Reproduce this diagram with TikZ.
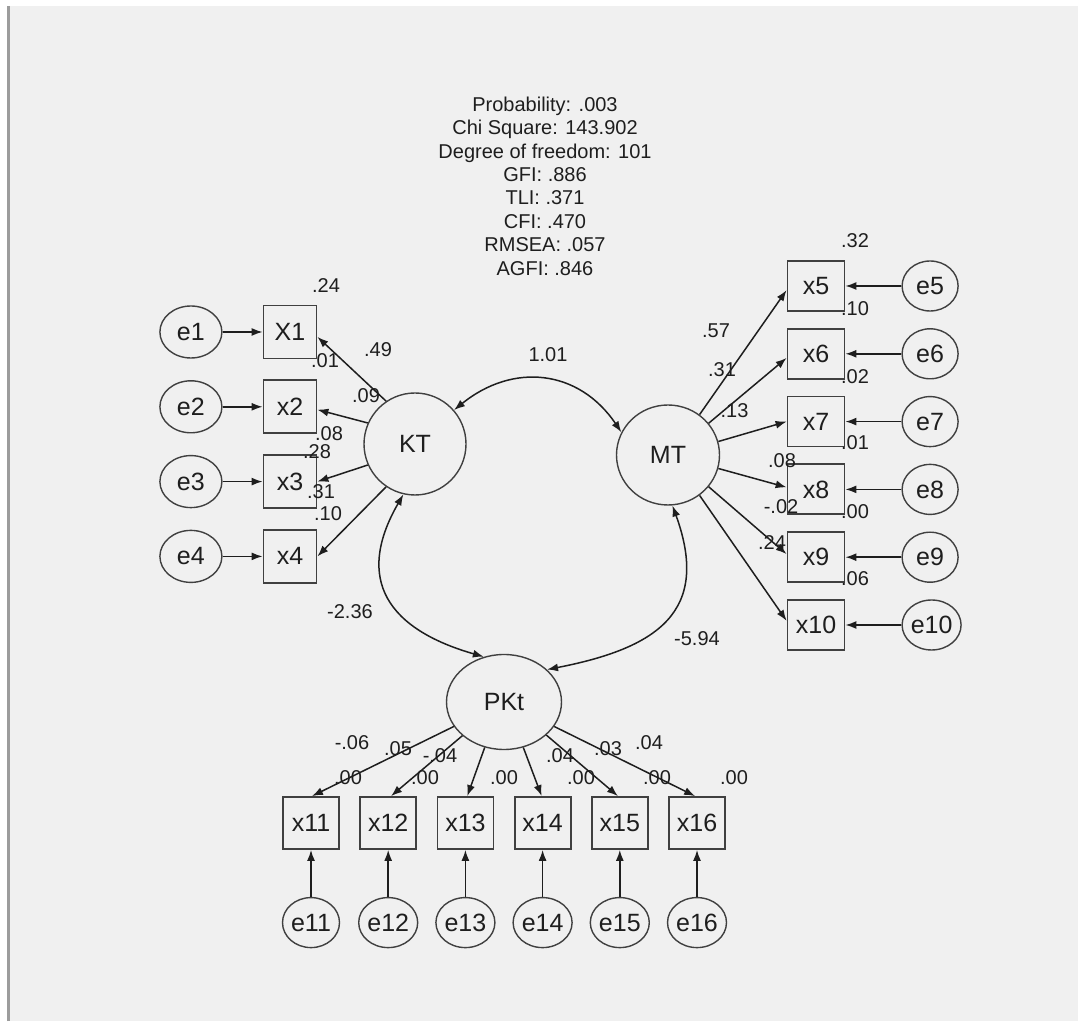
\documentclass[tikz,border=0pt]{standalone}
\usepackage{fontspec}
\setmainfont{Liberation Sans}
\usepackage{tikz}
\usetikzlibrary{shapes.geometric,arrows.meta,positioning}

\definecolor{panel}{HTML}{F0F0F0}
\definecolor{ink}{HTML}{1E1E1E}
\definecolor{frameline}{HTML}{9C9C9C}

\begin{document}
\begin{tikzpicture}[
    x=1pt, y=1pt,
    obs/.style={rectangle, draw=ink!85, line width=1.8pt, minimum width=53pt, minimum height=53pt, inner sep=2pt, font=\fontsize{25}{25}\selectfont, text=ink},
    obsr/.style={obs, minimum width=57pt, minimum height=50pt},
    obsb/.style={obs, minimum width=56pt, minimum height=52pt},
    err/.style={ellipse, draw=ink!85, line width=1.4pt, inner sep=0pt, minimum width=62pt, minimum height=52pt, font=\fontsize{25}{25}\selectfont, text=ink},
    errr/.style={err, minimum width=56pt, minimum height=50pt},
    errb/.style={err, minimum width=57pt, minimum height=50pt},
    lat/.style={ellipse, draw=ink!85, line width=1.4pt, inner sep=0pt, font=\fontsize{25}{25}\selectfont, text=ink},
    val/.style={font=\fontsize{20}{20}\selectfont, text=ink, inner sep=0pt},
    arrow/.style={-{Latex[length=11pt,width=8pt]}, line width=1.5pt, draw=ink},
    cov/.style={{Latex[length=11pt,width=8pt]}-{Latex[length=11pt,width=8pt]}, line width=1.5pt, draw=ink}
]
% window background
\fill[white] (0,0) rectangle (1078,1021);
\fill[panel] (10,0) rectangle (1078,1015);
\draw[frameline, line width=3pt] (8.5,0) -- (8.5,1015);
\useasboundingbox (0,0) rectangle (1078,1021);

% fit indices
\node[font=\fontsize{20}{23.4}\selectfont, align=center, text=ink] (stats) at (545,835)
    {Probability: .003\\Chi Square: 143.902\\Degree of freedom: 101\\GFI: .886\\TLI: .371\\CFI: .470\\RMSEA: .057\\AGFI: .846};

% latent variables
\node[lat, minimum width=102pt, minimum height=102pt] (KT) at (415,577) {KT};
\node[lat, minimum width=103pt, minimum height=100pt] (MT) at (668,566) {MT};
\node[lat, minimum width=115pt, minimum height=95pt] (PKt) at (504,319) {PKt};

% KT indicators
\node[obs] (X1) at (290,689) {X1};
\node[obs, below=20pt of X1] (x2) {x2};
\node[obs, below=20pt of x2] (x3) {x3};
\node[obs, below=20pt of x3] (x4) {x4};
\node[err, left=40pt of X1] (e1) {e1};
\node[err, left=40pt of x2] (e2) {e2};
\node[err, left=40pt of x3] (e3) {e3};
\node[err, left=40pt of x4] (e4) {e4};

% MT indicators
\node[obsr] (x5) at (816,735) {x5};
\node[obsr, below=16pt of x5] (x6) {x6};
\node[obsr, below=16pt of x6] (x7) {x7};
\node[obsr, below=16pt of x7] (x8) {x8};
\node[obsr, below=16pt of x8] (x9) {x9};
\node[obsr, below=16pt of x9] (x10) {x10};
\node[errr, right=56pt of x5] (e5) {e5};
\node[errr, right=56pt of x6] (e6) {e6};
\node[errr, right=56pt of x7] (e7) {e7};
\node[errr, right=56pt of x8] (e8) {e8};
\node[errr, right=56pt of x9] (e9) {e9};
\node[errr, right=56pt of x10] (e10) {e10};

% PKt indicators
\node[obsb] (x11) at (311,198) {x11};
\node[obsb, right=19.4pt of x11] (x12) {x12};
\node[obsb, right=19.4pt of x12] (x13) {x13};
\node[obsb, right=19.4pt of x13] (x14) {x14};
\node[obsb, right=19.4pt of x14] (x15) {x15};
\node[obsb, right=19.4pt of x15] (x16) {x16};
\node[errb, below=47pt of x11] (e11) {e11};
\node[errb, below=47pt of x12] (e12) {e12};
\node[errb, below=47pt of x13] (e13) {e13};
\node[errb, below=47pt of x14] (e14) {e14};
\node[errb, below=47pt of x15] (e15) {e15};
\node[errb, below=47pt of x16] (e16) {e16};

% error paths
\draw[arrow] (e1) -- (X1);
\draw[arrow] (e2) -- (x2);
\draw[arrow] (e3) -- (x3);
\draw[arrow] (e4) -- (x4);
\draw[arrow] (e5) -- (x5);
\draw[arrow] (e6) -- (x6);
\draw[arrow] (e7) -- (x7);
\draw[arrow] (e8) -- (x8);
\draw[arrow] (e9) -- (x9);
\draw[arrow] (e10) -- (x10);
\draw[arrow] (e11) -- (x11);
\draw[arrow] (e12) -- (x12);
\draw[arrow] (e13) -- (x13);
\draw[arrow] (e14) -- (x14);
\draw[arrow] (e15) -- (x15);
\draw[arrow] (e16) -- (x16);

% loadings
\draw[arrow] (KT.124) -- (X1.-10);
\draw[arrow] (KT.156) -- (x2.-6);
\draw[arrow] (KT.204) -- (x3.east);
\draw[arrow] (KT.236) -- (x4.east);
\draw[arrow] (MT.52) -- (x5.188);
\draw[arrow] (MT.38) -- (x6.188);
\draw[arrow] (MT.15) -- (x7.west);
\draw[arrow] (MT.-15) -- (x8.176);
\draw[arrow] (MT.-38) -- (x9.174);
\draw[arrow] (MT.-52) -- (x10.172);
\draw[arrow] (PKt.206) -- (x11.88);
\draw[arrow] (PKt.219) -- (x12.84);
\draw[arrow] (PKt.247) -- (x13.86);
\draw[arrow] (PKt.293) -- (x14.92);
\draw[arrow] (PKt.322) -- (x15.94);
\draw[arrow] (PKt.334) -- (x16.94);

% covariances
\draw[cov] (KT.41) to[out=39, in=124, looseness=1.15] (MT.154);
\draw[cov] (KT.257) to[out=240, in=164, looseness=1.4] (PKt.114);
\draw[cov] (MT.275) to[out=290, in=11, looseness=1.4] (PKt.37);

% estimates
\node[val] (cKM) at (548,666) {1.01};
\node[val] (cKP) at (350,409) {-2.36};
\node[val] (cMP) at (697,382) {-5.94};

\node[val] (sqX1) at (326,735) {.24};
\node[val] (wX1) at (378,671) {.49};
\node[val] (sqx2) at (325,660) {.01};
\node[val] (wx2) at (366,625) {.09};
\node[val] (sqx3) at (329,587) {.08};
\node[val] (wx3) at (317,569) {.28};
\node[val] (sqx4) at (321,529) {.31};
\node[val] (wx4) at (328,507) {.10};

\node[val] (sqx5) at (855,780) {.32};
\node[val] (wx5) at (716,690) {.57};
\node[val] (sqx6) at (855,712) {.10};
\node[val] (wx6) at (722,651) {.31};
\node[val] (wx7) at (734.5,610) {.13};
\node[val] (sqx7) at (855,644) {.02};
\node[val] (sqx8) at (855,578) {.01};
\node[val] (wx8) at (782,560) {.08};
\node[val] (wx9) at (781,514) {-.02};
\node[val] (sqx9) at (855,509) {.00};
\node[val] (wx10) at (772,478) {.24};
\node[val] (sqx10) at (855,442) {.06};

\node[val] (w11) at (352,278) {-.06};
\node[val] (w12) at (398,272) {.05};
\node[val] (w13) at (440,265) {-.04};
\node[val] (w14) at (560,265) {.04};
\node[val] (w15) at (608,272) {.03};
\node[val] (w16) at (649,278) {.04};
\node[val] (sq11) at (348,243) {.00};
\node[val] (sq12) at (425,243) {.00};
\node[val] (sq13) at (504,243) {.00};
\node[val] (sq14) at (581,243) {.00};
\node[val] (sq15) at (657,243) {.00};
\node[val] (sq16) at (734,243) {.00};
\end{tikzpicture}
\end{document}
